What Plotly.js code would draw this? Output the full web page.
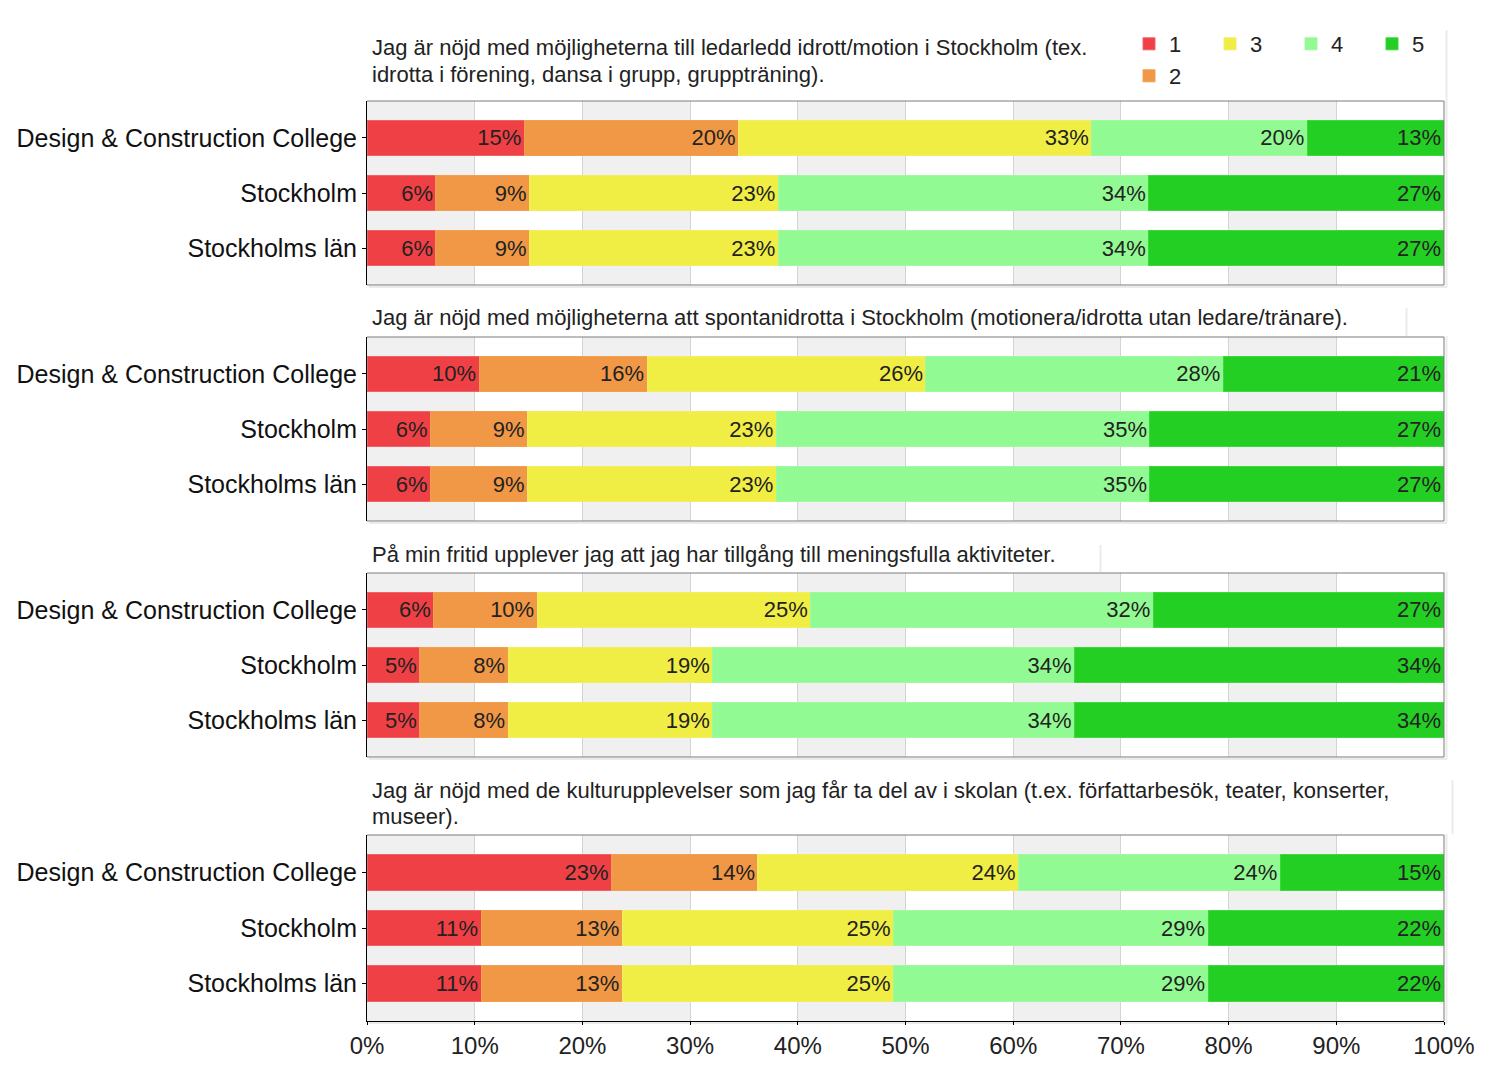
<!DOCTYPE html>
<html>
<head>
<meta charset="utf-8">
<script src="https://cdn.plot.ly/plotly-3.0.1.min.js"></script>
<style>html,body{margin:0;padding:0;background:#fff;}#chart{width:1500px;height:1075px;}</style>
</head>
<body>
<div id="chart"></div>
<script>
// ---------- DATA ----------
const categories = ["Design & Construction College", "Stockholm", "Stockholms län"];
const levels = ["1", "2", "3", "4", "5"];
const questions = [
  ["Jag är nöjd med möjligheterna till ledarledd idrott/motion i Stockholm (tex.", "idrotta i förening, dansa i grupp, gruppträning)."],
  ["Jag är nöjd med möjligheterna att spontanidrotta i Stockholm (motionera/idrotta utan ledare/tränare)."],
  ["På min fritid upplever jag att jag har tillgång till meningsfulla aktiviteter."],
  ["Jag är nöjd med de kulturupplevelser som jag får ta del av i skolan (t.ex. författarbesök, teater, konserter,", "museer)."]
];
const xTickVals = [0, 10, 20, 30, 40, 50, 60, 70, 80, 90, 100];
const xTickText = ["0%", "10%", "20%", "30%", "40%", "50%", "60%", "70%", "80%", "90%", "100%"];

// values (percent) per question, per answer level, for each category
const q1_l1 = [14.6, 6.4, 6.4];
const q1_l2 = [19.9, 8.7, 8.7];
const q1_l3 = [32.8, 23.1, 23.1];
const q1_l4 = [20.0, 34.4, 34.4];
const q1_l5 = [12.7, 27.4, 27.4];

const q2_l1 = [10.4, 5.9, 5.9];
const q2_l2 = [15.6, 9.0, 9.0];
const q2_l3 = [25.9, 23.1, 23.1];
const q2_l4 = [27.6, 34.7, 34.7];
const q2_l5 = [20.5, 27.3, 27.3];

const q3_l1 = [6.2, 4.9, 4.9];
const q3_l2 = [9.6, 8.2, 8.2];
const q3_l3 = [25.4, 19.0, 19.0];
const q3_l4 = [31.8, 33.6, 33.6];
const q3_l5 = [27.0, 34.3, 34.3];

const q4_l1 = [22.7, 10.6, 10.6];
const q4_l2 = [13.6, 13.1, 13.1];
const q4_l3 = [24.2, 25.2, 25.2];
const q4_l4 = [24.3, 29.2, 29.2];
const q4_l5 = [15.2, 21.9, 21.9];

const panelData = [
  [q1_l1, q1_l2, q1_l3, q1_l4, q1_l5],
  [q2_l1, q2_l2, q2_l3, q2_l4, q2_l5],
  [q3_l1, q3_l2, q3_l3, q3_l4, q3_l5],
  [q4_l1, q4_l2, q4_l3, q4_l4, q4_l5]
];

// ---------- STYLE ----------
const FONT = "Liberation Sans, Arial, Helvetica, sans-serif";
const fillColors = ["#ef4045", "#f09845", "#f0ee45", "#92fa92", "#24cf24"];
const lineColors = ["#f26068", "#f0a050", "#f2ee60", "#a0f8a0", "#3cd83c"];
const legendNames = ["legend", "legend5", "legend2", "legend3", "legend4"];

// page geometry helpers (plot area: x 367..1444, y 0..1021)
const PL = 367, PR = 1444, PB = 1021;
const px = p => (p - PL) / (PR - PL);
const py = p => (PB - p) / PB;

const panels = [
  {top: 101, bottom: 285, titleY: 48},
  {top: 337, bottom: 521, titleY: 318},
  {top: 573, bottom: 757, titleY: 554},
  {top: 835, bottom: 1021, titleY: 790}
];

const traces = [];
panelData.forEach((series, pi) => {
  const suf = pi === 0 ? "" : String(pi + 1);
  series.forEach((vals, li) => {
    traces.push({
      type: "bar",
      orientation: "h",
      name: levels[li],
      x: vals,
      y: categories,
      xaxis: "x" + suf,
      yaxis: "y" + suf,
      marker: {color: fillColors[li], line: {color: lineColors[li], width: 1}},
      texttemplate: "%{x:.0f}%",
      textposition: "inside",
      insidetextanchor: "end",
      textangle: 0,
      constraintext: "none",
      textfont: {family: FONT, size: 22, color: "#222"},
      hoverinfo: "skip",
      showlegend: pi === 0,
      legend: legendNames[li],
      cliponaxis: false
    });
  });
});

const layout = {
  width: 1500,
  height: 1075,
  margin: {l: PL, r: 1500 - PR, t: 0, b: 1075 - PB},
  paper_bgcolor: "#ffffff",
  plot_bgcolor: "#ffffff",
  barmode: "stack",
  bargap: 0.36,
  font: {family: FONT, size: 22, color: "#222"},
  shapes: [],
  annotations: []
};

const legendPos = [
  {name: "legend", x: 1129, y: 23},
  {name: "legend5", x: 1129, y: 55},
  {name: "legend2", x: 1210, y: 23},
  {name: "legend3", x: 1291, y: 23},
  {name: "legend4", x: 1372, y: 23}
];
legendPos.forEach(l => {
  layout[l.name] = {
    x: px(l.x), y: py(l.y), xanchor: "left", yanchor: "top",
    orientation: "v", bgcolor: "rgba(0,0,0,0)", borderwidth: 0,
    font: {family: FONT, size: 22, color: "#222"},
    itemclick: false, itemdoubleclick: false
  };
});

panels.forEach((p, pi) => {
  const suf = pi === 0 ? "" : String(pi + 1);
  const isBottom = pi === 3;
  layout["xaxis" + suf] = {
    domain: [0, 1],
    anchor: "y" + suf,
    range: [0, 100],
    tickmode: "array",
    tickvals: xTickVals,
    ticktext: xTickText,
    showticklabels: isBottom,
    ticks: isBottom ? "outside" : "",
    ticklen: 3,
    tickcolor: "#000",
    tickfont: {family: FONT, size: 24, color: "#222"},
    showgrid: true,
    gridcolor: "#d4d4d4",
    gridwidth: 1,
    zeroline: false,
    showline: isBottom,
    linecolor: "#000",
    linewidth: 1,
    fixedrange: true
  };
  layout["yaxis" + suf] = {
    domain: [py(p.bottom), py(p.top)],
    anchor: "x" + suf,
    type: "category",
    range: [2.67, -0.67],
    ticks: "outside",
    ticklen: 4,
    tickcolor: "#000",
    tickfont: {family: FONT, size: 25, color: "#111"},
    showline: true,
    linecolor: "#000",
    linewidth: 1,
    showgrid: false,
    zeroline: false,
    fixedrange: true
  };
  // alternating vertical bands
  for (let j = 0; j < 100; j += 20) {
    layout.shapes.push({
      type: "rect", layer: "below",
      xref: "x" + suf, yref: "y" + suf + " domain",
      x0: j, x1: j + 10, y0: 0, y1: 1,
      fillcolor: "#f0f0f0", line: {width: 0}
    });
  }
  // gray frame: top, right, (bottom for upper panels)
  layout.shapes.push({type: "line", layer: "above", xref: "x" + suf + " domain", yref: "y" + suf + " domain",
    x0: 0, x1: 1, y0: 1, y1: 1, line: {color: "#7a7a7a", width: 1}});
  layout.shapes.push({type: "line", layer: "above", xref: "x" + suf + " domain", yref: "y" + suf + " domain",
    x0: 1, x1: 1, y0: 0, y1: 1, line: {color: "#7a7a7a", width: 1}});
  if (!isBottom) {
    layout.shapes.push({type: "line", layer: "above", xref: "x" + suf + " domain", yref: "y" + suf + " domain",
      x0: 0, x1: 1, y0: 0, y1: 0, line: {color: "#7a7a7a", width: 1}});
  }
  // faint drop shadow
  layout.shapes.push({type: "line", layer: "below", xref: "paper", yref: "paper",
    x0: px(1446.5), x1: px(1446.5), y0: py(p.bottom + 2), y1: py(p.top - 1), line: {color: "#ebebeb", width: 2}});
  layout.shapes.push({type: "line", layer: "below", xref: "paper", yref: "paper",
    x0: px(369), x1: px(1447), y0: py(p.bottom + 2), y1: py(p.bottom + 2), line: {color: "#ebebeb", width: 2}});
  // question title (one annotation per line, 26px line spacing)
  questions[pi].forEach((line, k) => {
    layout.annotations.push({
      xref: "paper", yref: "paper",
      x: px(370), y: py(p.titleY + 26 * k),
      xanchor: "left", yanchor: "middle", align: "left",
      showarrow: false,
      text: line,
      font: {family: FONT, size: 22, color: "#222"}
    });
  });
});

// faint shadows at right of title boxes
const titleShadows = [
  {x: 1446.5, y0: 30, y1: 100},
  {x: 1406.5, y0: 308, y1: 336},
  {x: 1100.5, y0: 545, y1: 572},
  {x: 1452.5, y0: 780, y1: 834}
];
titleShadows.forEach(s => {
  layout.shapes.push({type: "line", layer: "below", xref: "paper", yref: "paper",
    x0: px(s.x), x1: px(s.x), y0: py(s.y1), y1: py(s.y0), line: {color: "#ebebeb", width: 2}});
});

Plotly.newPlot("chart", traces, layout, {staticPlot: true, displayModeBar: false});
</script>
</body>
</html>
